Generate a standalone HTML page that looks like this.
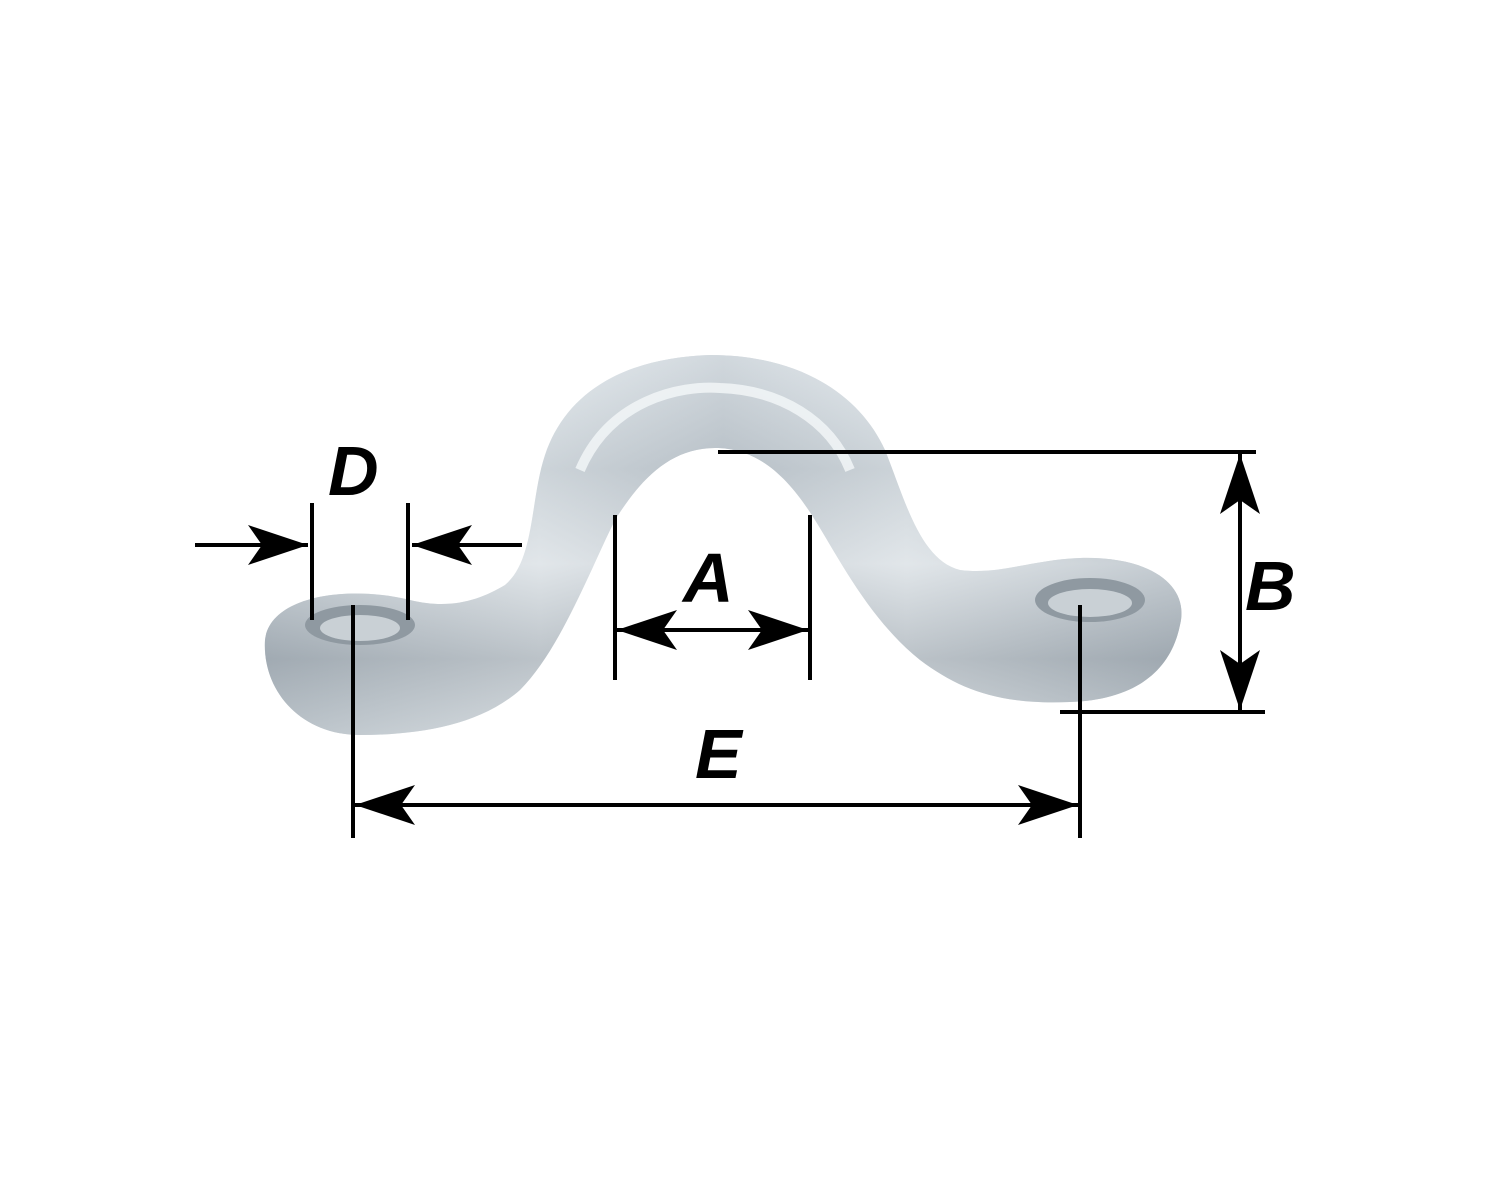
<!DOCTYPE html>
<html><head><meta charset="utf-8"><style>
html,body{margin:0;padding:0;background:#fff;}
svg{display:block;}
text{font-family:"Liberation Sans",sans-serif;font-weight:bold;font-style:italic;font-size:70px;fill:#000;}
</style></head><body>
<svg width="1500" height="1200" viewBox="0 0 1500 1200" xmlns="http://www.w3.org/2000/svg">
<defs>
<linearGradient id="m" x1="0" y1="0" x2="0" y2="1">
<stop offset="0" stop-color="#e8eef2"/><stop offset="0.3" stop-color="#b9c2c9"/>
<stop offset="0.55" stop-color="#dfe4e8"/><stop offset="0.8" stop-color="#9aa3ab"/>
<stop offset="1" stop-color="#c8cfd4"/></linearGradient>
<linearGradient id="m2" x1="0" y1="0" x2="1" y2="0">
<stop offset="0" stop-color="#a9b3bb"/><stop offset="0.3" stop-color="#e4e9ec"/>
<stop offset="0.5" stop-color="#b5bdc4"/><stop offset="0.7" stop-color="#e4e9ec"/>
<stop offset="1" stop-color="#a3adb5"/></linearGradient>
<marker id="ah" viewBox="0 0 60 40" refX="60" refY="20" markerWidth="60" markerHeight="40" markerUnits="userSpaceOnUse" orient="auto-start-reverse">
<path d="M0,0 L60,20 L0,40 L14,20 Z" fill="#000"/></marker>
</defs>
<!-- strap body -->
<path d="M265,640 C270,595 350,585 410,600 C450,610 480,600 505,585 C535,560 530,500 545,455 C565,395 620,358 710,355 C800,355 860,395 885,450 C905,500 920,560 960,570 C1000,575 1030,560 1080,558 C1150,556 1190,585 1180,625 C1170,675 1130,700 1070,702 C1000,705 960,690 920,660 C870,620 840,560 815,520 C790,480 760,448 715,448 C670,448 640,480 615,520 C590,570 560,650 520,690 C480,725 420,735 360,735 C300,735 262,690 265,640 Z" fill="url(#m2)"/>
<path d="M265,640 C270,595 350,585 410,600 C450,610 480,600 505,585 C535,560 530,500 545,455 C565,395 620,358 710,355 C800,355 860,395 885,450 C905,500 920,560 960,570 C1000,575 1030,560 1080,558 C1150,556 1190,585 1180,625 C1170,675 1130,700 1070,702 C1000,705 960,690 920,660 C870,620 840,560 815,520 C790,480 760,448 715,448 C670,448 640,480 615,520 C590,570 560,650 520,690 C480,725 420,735 360,735 C300,735 262,690 265,640 Z" fill="url(#m)" opacity="0.55"/>
<ellipse cx="360" cy="625" rx="55" ry="20" fill="#8f99a1"/>
<ellipse cx="360" cy="628" rx="40" ry="13" fill="#c9d0d5"/>
<ellipse cx="1090" cy="600" rx="55" ry="22" fill="#8f99a1"/>
<ellipse cx="1090" cy="603" rx="42" ry="14" fill="#c9d0d5"/>
<path d="M580,470 C610,400 680,385 720,388 C780,390 830,420 850,470" fill="none" stroke="#f4f7f9" stroke-width="10" opacity="0.8"/>
<g stroke="#000" stroke-width="4" fill="none">
<!-- D -->
<line x1="312" y1="503" x2="312" y2="620"/><line x1="408" y1="503" x2="408" y2="620"/>
<line x1="195" y1="545" x2="308" y2="545" marker-end="url(#ah)"/>
<line x1="522" y1="545" x2="412" y2="545" marker-end="url(#ah)"/>
<!-- A -->
<line x1="615" y1="515" x2="615" y2="680"/><line x1="810" y1="515" x2="810" y2="680"/>
<line x1="617" y1="630" x2="808" y2="630" marker-start="url(#ah)" marker-end="url(#ah)"/>
<!-- B -->
<line x1="718" y1="452" x2="1256" y2="452"/><line x1="1060" y1="712" x2="1265" y2="712"/>
<line x1="1240" y1="454" x2="1240" y2="710" marker-start="url(#ah)" marker-end="url(#ah)"/>
<!-- E -->
<line x1="353" y1="605" x2="353" y2="838"/><line x1="1080" y1="605" x2="1080" y2="838"/>
<line x1="355" y1="805" x2="1078" y2="805" marker-start="url(#ah)" marker-end="url(#ah)"/>
</g>
<text x="328" y="495">D</text>
<text x="683" y="602">A</text>
<text x="1245" y="610">B</text>
<text x="695" y="778">E</text>
</svg>
</body></html>
